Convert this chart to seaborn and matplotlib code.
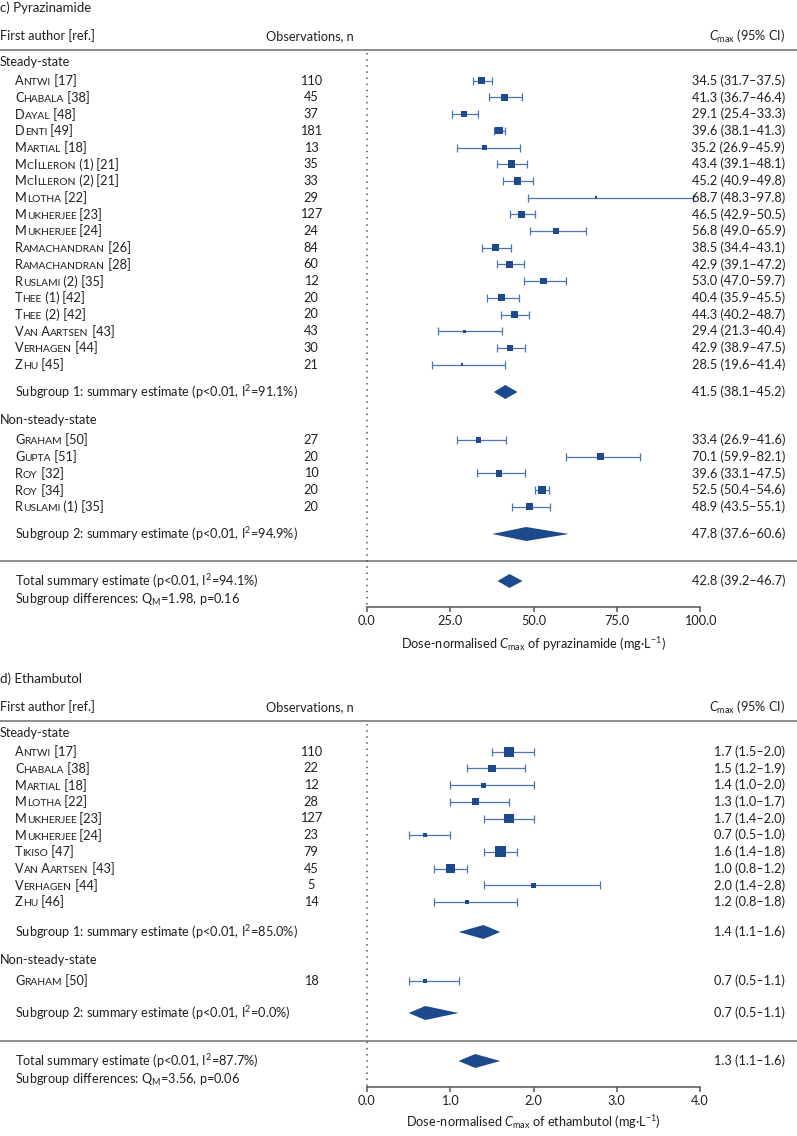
import numpy as np
import pandas as pd
import seaborn as sns
import matplotlib as mpl
import matplotlib.pyplot as plt
from matplotlib.transforms import blended_transform_factory
from matplotlib.offsetbox import TextArea, HPacker, AnnotationBbox

# ---------------- c) Pyrazinamide ----------------
pza_ss_study = ["Antwi [17]", "Chabala [38]", "Dayal [48]", "Denti [49]", "Martial [18]",
                "McIlleron (1) [21]", "McIlleron (2) [21]", "Mlotha [22]", "Mukherjee [23]",
                "Mukherjee [24]", "Ramachandran [26]", "Ramachandran [28]", "Ruslami (2) [35]",
                "Thee (1) [42]", "Thee (2) [42]", "Van Aartsen [43]", "Verhagen [44]", "Zhu [45]"]
pza_ss_n = [110, 45, 37, 181, 13, 35, 33, 29, 127, 24, 84, 60, 12, 20, 20, 43, 30, 21]
pza_ss_est = [34.5, 41.3, 29.1, 39.6, 35.2, 43.4, 45.2, 68.7, 46.5, 56.8, 38.5, 42.9, 53.0,
              40.4, 44.3, 29.4, 42.9, 28.5]
pza_ss_lo = [31.7, 36.7, 25.4, 38.1, 26.9, 39.1, 40.9, 48.3, 42.9, 49.0, 34.4, 39.1, 47.0,
             35.9, 40.2, 21.3, 38.9, 19.6]
pza_ss_hi = [37.5, 46.4, 33.3, 41.3, 45.9, 48.1, 49.8, 97.8, 50.5, 65.9, 43.1, 47.2, 59.7,
             45.5, 48.7, 40.4, 47.5, 41.4]
pza_ss_weight = [4.8, 5.6, 4.4, 5.4, 2.2, 5.6, 5.4, 0.6, 5.4, 3.8, 4.6, 5.0, 3.8, 5.0, 4.4,
                 1.0, 4.2, 0.7]

pza_nss_study = ["Graham [50]", "Gupta [51]", "Roy [32]", "Roy [34]", "Ruslami (1) [35]"]
pza_nss_n = [27, 20, 10, 20, 20]
pza_nss_est = [33.4, 70.1, 39.6, 52.5, 48.9]
pza_nss_lo = [26.9, 59.9, 33.1, 50.4, 43.5]
pza_nss_hi = [41.6, 82.1, 47.5, 54.6, 55.1]
pza_nss_weight = [3.0, 4.6, 4.0, 6.2, 4.8]

# summary rows: subgroup 1, subgroup 2, total
pza_sum_est = [41.5, 47.8, 42.8]
pza_sum_lo = [38.1, 37.6, 39.2]
pza_sum_hi = [45.2, 60.6, 46.7]
pza_sum_p = ["p<0.01", "p<0.01", "p<0.01"]
pza_sum_i2 = [91.1, 94.9, 94.1]
pza_qm, pza_qm_p = 1.98, 0.16
pza_ticks = [0.0, 25.0, 50.0, 75.0, 100.0]

# ---------------- d) Ethambutol ----------------
emb_ss_study = ["Antwi [17]", "Chabala [38]", "Martial [18]", "Mlotha [22]", "Mukherjee [23]",
                "Mukherjee [24]", "Tikiso [47]", "Van Aartsen [43]", "Verhagen [44]", "Zhu [46]"]
emb_ss_n = [110, 22, 12, 28, 127, 23, 79, 45, 5, 14]
emb_ss_est = [1.7, 1.5, 1.4, 1.3, 1.7, 0.7, 1.6, 1.0, 2.0, 1.2]
emb_ss_lo = [1.5, 1.2, 1.0, 1.0, 1.4, 0.5, 1.4, 0.8, 1.4, 0.8]
emb_ss_hi = [2.0, 1.9, 2.0, 1.7, 2.0, 1.0, 1.8, 1.2, 2.8, 1.8]
emb_ss_weight = [10.2, 5.4, 2.6, 4.6, 10.2, 1.9, 12.3, 8.3, 2.6, 1.6]

emb_nss_study = ["Graham [50]"]
emb_nss_n = [18]
emb_nss_est = [0.7]
emb_nss_lo = [0.5]
emb_nss_hi = [1.1]
emb_nss_weight = [1.4]

emb_sum_est = [1.4, 0.7, 1.3]
emb_sum_lo = [1.1, 0.5, 1.1]
emb_sum_hi = [1.6, 1.1, 1.6]
emb_sum_p = ["p<0.01", "p<0.01", "p<0.01"]
emb_sum_i2 = [85.0, 0.0, 87.7]
emb_qm, emb_qm_p = 3.56, 0.06
emb_ticks = [0.0, 1.0, 2.0, 3.0, 4.0]

W, H = 797, 1136
NAVY = "#1d4a8c"
CI_BLUE = "#4f74b4"
INK = "#231f20"
RULE = "#858585"
FS = 9.2

sns.set_theme(style="white")
plt.rcParams['font.family'] = ['Lato', 'DejaVu Sans']
plt.rcParams['mathtext.fontset'] = 'custom'
plt.rcParams['mathtext.rm'] = 'Lato'
plt.rcParams['mathtext.it'] = 'Lato:italic'
plt.rcParams['mathtext.bf'] = 'Lato:bold'
plt.rcParams['text.color'] = INK


def smallcaps(ax, x, y, label, trans):
    # emulate small caps: lower case letters become smaller capitals
    runs = []
    for ch in label:
        small = ch.islower()
        if runs and runs[-1][1] == small and ch != " ":
            runs[-1][0] += ch.upper()
        else:
            runs.append([ch.upper(), small])
    areas = [TextArea(t, textprops=dict(fontsize=FS * (0.8 if s else 1.0), color=INK))
             for t, s in runs]
    pack = HPacker(children=areas, align="baseline", pad=0, sep=0)
    ab = AnnotationBbox(pack, (x, y), xycoords=trans, box_alignment=(0, 0.5),
                        frameon=False, pad=0, annotation_clip=False)
    ax.add_artist(ab)


def draw_panel(ax, title, drug, groups, sums, qm, qm_p, ticks, lay):
    tcol = blended_transform_factory(ax.transAxes, ax.transData)
    xmax = ticks[-1]

    ax.text(0 / W, lay["title"], title, transform=tcol, fontsize=FS + 0.3, va="center")
    ax.text(0 / W, lay["header"], "First author [ref.]", transform=tcol, fontsize=FS, va="center")
    ax.text(310 / W, lay["header"], "Observations, n", transform=tcol, fontsize=FS,
            va="center", ha="center")
    ax.text(785 / W, lay["header"], r"$\mathit{C}_{\mathrm{max}}$ (95% CI)", transform=tcol,
            fontsize=FS, va="center", ha="right")
    ax.axhline(lay["rule1"], color=RULE, lw=1.3)
    ax.axhline(lay["rule2"], color=RULE, lw=1.3)
    ax.vlines(0, lay["rule1"] + 3, lay["axis"], colors="#555555", lw=1.1,
              linestyles=(0, (1, 3)))

    for gi, (gname, df) in enumerate(groups):
        ax.text(0 / W, lay["group"][gi], gname, transform=tcol, fontsize=FS, va="center")
        ys = lay["first"][gi] + lay["step"] * np.arange(len(df))
        df = df.assign(y=ys)
        ax.errorbar(df["est"], df["y"], xerr=[df["est"] - df["lo"], df["hi"] - df["est"]],
                    fmt="none", ecolor=CI_BLUE, elinewidth=0.9, capsize=2.9, capthick=0.9)
        sns.scatterplot(data=df, x="est", y="y", size="weight", sizes=(0, 5.08 * 15),
                        size_norm=(0, 15), marker="s", color=NAVY, linewidth=0,
                        legend=False, ax=ax, zorder=3)
        for _, r in df.iterrows():
            smallcaps(ax, 15 / W, r["y"], r["study"], tcol)
            ax.text(311 / W, r["y"], f"{r['n']}", transform=tcol, fontsize=FS,
                    va="center", ha="center")
            ax.text(785 / W, r["y"], f"{r['est']:.1f} ({r['lo']:.1f}–{r['hi']:.1f})",
                    transform=tcol, fontsize=FS, va="center", ha="right")

    labels = ["Subgroup 1: summary estimate", "Subgroup 2: summary estimate",
              "Total summary estimate"]
    for si, key in enumerate(["sub1", "sub2", "total"]):
        y = lay[key]
        est, lo, hi = sums["est"][si], sums["lo"][si], sums["hi"][si]
        ax.fill([lo, est, hi, est], [y, y - 7, y, y + 7], color=NAVY, lw=0, zorder=3)
        ax.text(15 / W, y, f"{labels[si]} ({sums['p'][si]}, I$^{{2}}$={sums['i2'][si]:.1f}%)",
                transform=tcol, fontsize=FS, va="center")
        ax.text(785 / W, y, f"{est:.1f} ({lo:.1f}–{hi:.1f})", transform=tcol,
                fontsize=FS, va="center", ha="right")
    ax.text(15 / W, lay["diffs"],
            f"Subgroup differences: Q$_{{\\mathrm{{M}}}}$={qm:.2f}, p={qm_p:.2f}",
            transform=tcol, fontsize=FS, va="center")

    # x axis
    for s in ["top", "left", "right"]:
        ax.spines[s].set_visible(False)
    ax.spines["bottom"].set_position(("data", lay["axis"]))
    ax.spines["bottom"].set_bounds(ticks[0], ticks[-1])
    ax.spines["bottom"].set_color("#555555")
    ax.spines["bottom"].set_linewidth(1.1)
    ax.set_xticks(ticks)
    ax.set_xticklabels([f"{t:.1f}" for t in ticks])
    ax.tick_params(axis="x", direction="out", length=3.5, width=1.1, color="#555555",
                   pad=2.5, labelsize=FS, labelcolor=INK, bottom=True)
    ax.set_yticks([])
    ax.set_xlabel("")
    ax.set_ylabel("")
    ax.text(xmax / 2, lay["xlabel"],
            rf"Dose-normalised $\mathit{{C}}_{{\mathrm{{max}}}}$ of {drug} (mg·L$^{{-1}}$)",
            fontsize=FS, ha="center", va="center")

    # 0 at x=367 px, last tick at x=700 px
    unit = (700 - 367) / xmax
    ax.set_xlim(-367 / unit, (W - 367) / unit)


def make_df(study, n, est, lo, hi, weight):
    return pd.DataFrame({"study": study, "n": n, "est": est, "lo": lo, "hi": hi,
                         "weight": weight})


fig = plt.figure(figsize=(W / 100, H / 100), dpi=100)

split = 664
ax_c = fig.add_axes([0, 1 - split / H, 1, split / H])
ax_c.set_ylim(split, 0)
ax_d = fig.add_axes([0, 0, 1, (H - split) / H])
ax_d.set_ylim(H, split)

lay_c = dict(title=8, header=36, rule1=50, group=[62, 420], first=[80.7, 440], step=16.7,
             sub1=392, sub2=534, rule2=561, total=581, diffs=600, axis=607, xlabel=644)
lay_d = dict(title=679, header=707, rule1=721, group=[733, 960], first=[751.7, 981], step=16.7,
             sub1=932, sub2=1013, rule2=1041, total=1061, diffs=1080, axis=1087, xlabel=1122)

draw_panel(ax_c, "c) Pyrazinamide", "pyrazinamide",
           [("Steady-state", make_df(pza_ss_study, pza_ss_n, pza_ss_est, pza_ss_lo, pza_ss_hi,
                                     pza_ss_weight)),
            ("Non-steady-state", make_df(pza_nss_study, pza_nss_n, pza_nss_est, pza_nss_lo,
                                         pza_nss_hi, pza_nss_weight))],
           dict(est=pza_sum_est, lo=pza_sum_lo, hi=pza_sum_hi, p=pza_sum_p, i2=pza_sum_i2),
           pza_qm, pza_qm_p, pza_ticks, lay_c)
ax_c.set_ylim(split, 0)

draw_panel(ax_d, "d) Ethambutol", "ethambutol",
           [("Steady-state", make_df(emb_ss_study, emb_ss_n, emb_ss_est, emb_ss_lo, emb_ss_hi,
                                     emb_ss_weight)),
            ("Non-steady-state", make_df(emb_nss_study, emb_nss_n, emb_nss_est, emb_nss_lo,
                                         emb_nss_hi, emb_nss_weight))],
           dict(est=emb_sum_est, lo=emb_sum_lo, hi=emb_sum_hi, p=emb_sum_p, i2=emb_sum_i2),
           emb_qm, emb_qm_p, emb_ticks, lay_d)
ax_d.set_ylim(H, split)

fig.savefig("out.png", dpi=100)
